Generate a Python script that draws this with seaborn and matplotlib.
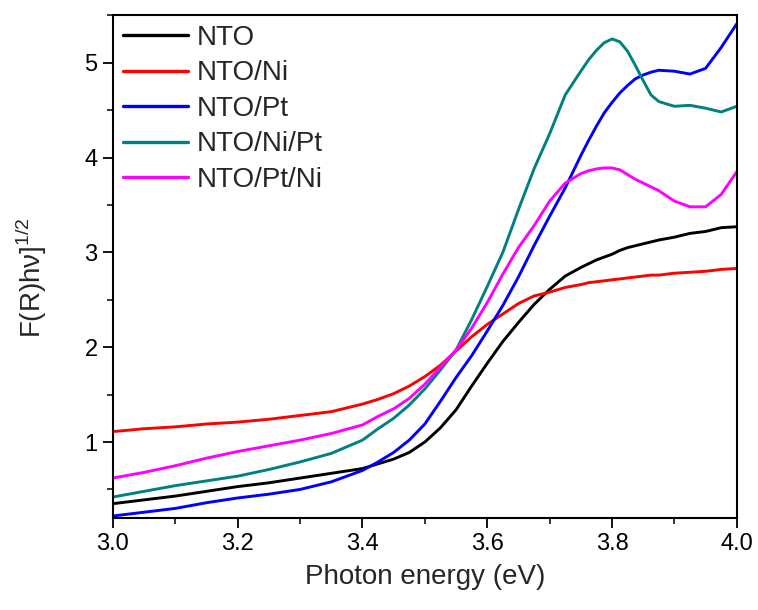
import numpy as np
import pandas as pd
import matplotlib
matplotlib.use("Agg")
import matplotlib.pyplot as plt
import seaborn as sns
from matplotlib.ticker import MultipleLocator, FormatStrFormatter

# photon energy (eV)
energy = [3.0, 3.05, 3.1, 3.15, 3.2, 3.25, 3.3, 3.35, 3.4,
          3.425, 3.45, 3.475, 3.5, 3.525, 3.55, 3.575, 3.6, 3.625, 3.65, 3.675, 3.7, 3.725, 3.75,
          3.7625, 3.775, 3.7875, 3.8, 3.8125, 3.825, 3.8375, 3.85, 3.8625,
          3.875, 3.9, 3.925, 3.95, 3.975, 4.0]

nto = [0.35, 0.39, 0.43, 0.48, 0.53, 0.57, 0.62, 0.67, 0.72,
       0.77, 0.82, 0.89, 1.00, 1.15, 1.34, 1.59, 1.83, 2.06, 2.26, 2.45, 2.61, 2.75, 2.84,
       2.88, 2.92, 2.95, 2.98, 3.02, 3.05, 3.07, 3.09, 3.11,
       3.13, 3.16, 3.20, 3.22, 3.26, 3.27]
nto_ni = [1.11, 1.14, 1.16, 1.19, 1.21, 1.24, 1.28, 1.32, 1.40,
          1.45, 1.51, 1.59, 1.69, 1.81, 1.96, 2.11, 2.24, 2.35, 2.46, 2.54, 2.58, 2.63, 2.66,
          2.68, 2.69, 2.70, 2.71, 2.72, 2.73, 2.74, 2.75, 2.76,
          2.76, 2.78, 2.79, 2.80, 2.82, 2.83]
nto_pt = [0.22, 0.26, 0.30, 0.36, 0.41, 0.45, 0.50, 0.58, 0.70,
          0.79, 0.89, 1.02, 1.19, 1.43, 1.68, 1.91, 2.17, 2.44, 2.74, 3.07, 3.38, 3.68, 4.02,
          4.18, 4.33, 4.47, 4.58, 4.68, 4.76, 4.83, 4.87, 4.90,
          4.92, 4.91, 4.88, 4.94, 5.16, 5.41]
nto_ni_pt = [0.42, 0.48, 0.54, 0.59, 0.64, 0.71, 0.79, 0.88, 1.02,
             1.14, 1.25, 1.39, 1.56, 1.76, 1.97, 2.29, 2.64, 3.00, 3.45, 3.88, 4.25, 4.66, 4.91,
             5.03, 5.13, 5.21, 5.25, 5.22, 5.12, 4.97, 4.81, 4.66,
             4.59, 4.54, 4.55, 4.52, 4.48, 4.54]
nto_pt_ni = [0.62, 0.68, 0.75, 0.83, 0.90, 0.96, 1.02, 1.09, 1.18,
             1.27, 1.35, 1.46, 1.61, 1.79, 1.97, 2.20, 2.47, 2.77, 3.05, 3.28, 3.54, 3.73, 3.83,
             3.86, 3.88, 3.89, 3.89, 3.87, 3.82, 3.77, 3.73, 3.69,
             3.65, 3.54, 3.48, 3.48, 3.61, 3.85]

labels = ["NTO", "NTO/Ni", "NTO/Pt", "NTO/Ni/Pt", "NTO/Pt/Ni"]
colors = ["#000000", "#ff0000", "#0000ff", "#008080", "#ff00ff"]
series = [nto, nto_ni, nto_pt, nto_ni_pt, nto_pt_ni]

df = pd.concat([pd.DataFrame({"E": energy, "F": s, "sample": lab})
                for s, lab in zip(series, labels)], ignore_index=True)

sns.set_style("ticks")
plt.rcParams["font.family"] = ["Liberation Sans", "DejaVu Sans"]

fig = plt.figure(figsize=(7.58, 6.10), dpi=100)
ax = fig.add_axes([0.149, 0.151, 0.823, 0.824])

sns.lineplot(data=df, x="E", y="F", hue="sample", hue_order=labels,
             palette=dict(zip(labels, colors)), linewidth=2.1, sort=False,
             estimator=None, ax=ax)
for ln in ax.get_lines():
    ln.set_solid_joinstyle("round")

ax.set_xlim(3.0, 4.0)
ax.set_ylim(0.2, 5.5)
ax.xaxis.set_major_locator(MultipleLocator(0.2))
ax.xaxis.set_minor_locator(MultipleLocator(0.1))
ax.yaxis.set_minor_locator(MultipleLocator(0.5))
ax.set_yticks([1, 2, 3, 4, 5])
ax.xaxis.set_major_formatter(FormatStrFormatter("%.1f"))

for sp in ax.spines.values():
    sp.set_visible(True)
    sp.set_linewidth(1.5)
    sp.set_color("black")
ax.tick_params(which="major", direction="out", length=7, width=1.3,
               labelsize=17, pad=4, colors="black")
ax.tick_params(which="minor", direction="out", length=4, width=1.3)
ax.tick_params(top=False, right=False, which="both")

ax.set_xlabel("Photon energy (eV)", fontsize=20, labelpad=6)
ax.set_ylabel(r"F(R)hν]$^{\mathregular{1/2}}$", fontsize=20)
ax.yaxis.set_label_coords(-0.103, 0.479)

leg = ax.legend(loc="upper left", frameon=False, fontsize=20,
                handlelength=2.35, handletextpad=0.3, labelspacing=0.34,
                borderaxespad=0.1, borderpad=0.25)
for line in leg.get_lines():
    line.set_linewidth(2.4)

fig.savefig("out.png", dpi=100)
